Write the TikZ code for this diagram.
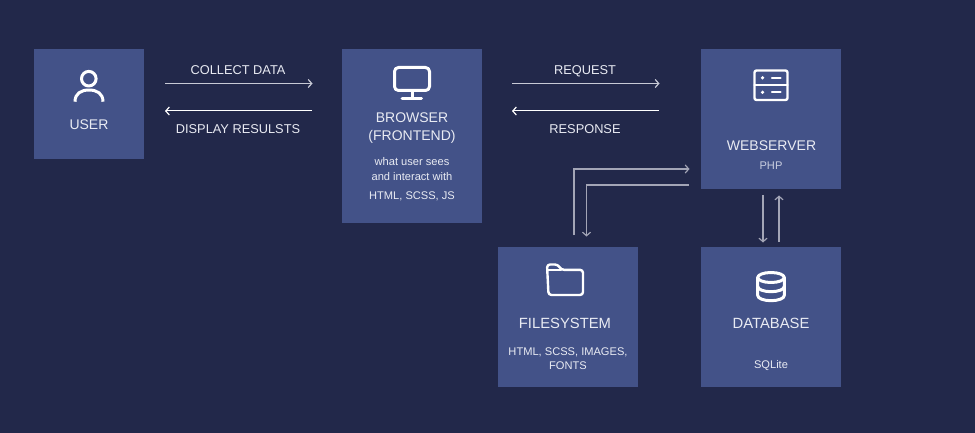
\documentclass[tikz,border=0pt]{standalone}
\usepackage{fontspec}
\setmainfont{Liberation Sans}
\usetikzlibrary{arrows.meta}
\definecolor{bgc}{HTML}{22284A}
\definecolor{boxc}{HTML}{435288}
\definecolor{txtc}{HTML}{E9EBF3}
\definecolor{dimc}{HTML}{C9CEE0}
\definecolor{linec}{HTML}{C8CAD6}
\definecolor{greyline}{HTML}{A3A5B6}
\tikzset{
  x=1pt,y=-1pt,
  tile/.style={fill=boxc,draw=none,anchor=north west,inner sep=0pt,outer sep=0pt},
  big/.style={text=txtc,font=\fontsize{14}{14}\selectfont,anchor=base,inner sep=0pt},
  bigw/.style={text=txtc,font=\fontsize{14.8}{14}\selectfont,anchor=base,inner sep=0pt},
  mid/.style={text=txtc,font=\fontsize{12.8}{13}\selectfont,anchor=base,inner sep=0pt},
  small/.style={text=txtc,font=\fontsize{11.1}{11}\selectfont,anchor=base,inner sep=0pt},
  conn/.style={draw=linec,line width=1pt,-{Straight Barb[length=3.5pt,width=8pt,line width=1.2pt]}},
  connw/.style={conn,draw=white},
  conng/.style={conn,draw=greyline,line width=1.2pt},
  icon/.style={draw=white,line width=3pt,line cap=round,line join=round},
  iconthin/.style={draw=white,line width=2.4pt,line cap=round,line join=round},
}
\begin{document}
\begin{tikzpicture}
\useasboundingbox[fill=bgc] (0,0) rectangle (975,433);
% tiles
\node[tile,minimum width=110pt,minimum height=110pt] (user) at (34,49) {};
\node[tile,minimum width=140pt,minimum height=174pt] (browser) at (342,49) {};
\node[tile,minimum width=140pt,minimum height=140pt] (web) at (701,49) {};
\node[tile,minimum width=140pt,minimum height=140pt] (files) at (498,247) {};
\node[tile,minimum width=140pt,minimum height=140pt] (db) at (701,247) {};
% labels
\node[big] (tuser) at (89,129.5) {USER};
\node[big] (tbrowser) at (412,122.7) {BROWSER};
\node[big] (tfront) at (412,141) {(FRONTEND)};
\node[small] (t1) at (412,166) {what user sees};
\node[small] (t2) at (412,180) {and interact with};
\node[small] (t3) at (412,200) {HTML, SCSS, JS};
\node[big] (tweb) at (771.5,150) {WEBSERVER};
\node[small,text=dimc] (tphp) at (771,170) {PHP};
\node[bigw] (tfiles) at (565,328) {FILESYSTEM};
\node[small] (t4) at (568,355.5) {HTML, SCSS, IMAGES,};
\node[small] (t5) at (568,369) {FONTS};
\node[bigw] (tdb) at (771,328) {DATABASE};
\node[small] (tsql) at (771,368) {SQLite};
\node[mid] (lcollect) at (238,74.5) {COLLECT DATA};
\node[mid] (ldisplay) at (238,134) {DISPLAY RESULSTS};
\node[mid] (lreq) at (585,74.5) {REQUEST};
\node[mid] (lresp) at (585,134) {RESPONSE};
% connectors
\draw[conn]  ([shift={(21,34.5)}]user.north east) -- ([shift={(-29.5,34.5)}]browser.north west);
\draw[connw] ([shift={(-30,62)}]browser.north west) -- ([shift={(21,62)}]user.north east);
\draw[conn]  ([shift={(30,34.5)}]browser.north east) -- ([shift={(-41.5,34.5)}]web.north west);
\draw[connw] ([shift={(-42,62)}]web.north west) -- ([shift={(30,62)}]browser.north east);
\draw[conng] ([shift={(76,-12)}]files.north west) |- ([shift={(-11.5,120)}]web.north west);
\draw[conng] ([shift={(-12,136)}]web.north west) -| ([shift={(88.5,-10.5)}]files.north west);
\draw[conng] ([shift={(62,6)}]web.south west) -- ([shift={(62,-4.5)}]db.north west);
\draw[conng] ([shift={(78,-5)}]db.north west) -- ([shift={(78,6.5)}]web.south west);
% user icon
\draw[icon] (88.8,78.7) circle (7.3);
\draw[icon,line cap=butt] (75,101.7) .. controls (75,93.5) and (81,90) .. (89,90) .. controls (97,90) and (103,93.5) .. (103,101.7);
% monitor icon
\draw[icon,rounded corners=4pt] (394.5,67.5) rectangle (429.5,90.5);
\draw[icon] (412,91) -- (412,98);
\draw[icon] (402,98.5) -- (421.5,98.5);
% server icon
\draw[iconthin,rounded corners=2pt] (754.5,70.5) rectangle (787.5,100);
\draw[iconthin] (754.5,85) -- (787.5,85);
\draw[iconthin] (772,77.8) -- (780.5,77.8);
\draw[iconthin] (772,92.3) -- (780.5,92.3);
\fill[white] (762.5,77.8) circle (1.8) (762.5,92.3) circle (1.8);
% folder icon
\draw[iconthin,rounded corners=3pt] (565,295) -- (583,295) -- (583,269.8) -- (561,269.8) -- (558,264.5) -- (547,264.5) -- (548.5,295) -- cycle;
\draw[iconthin] (548,269.8) -- (561,269.8);
% database icon
\draw[icon] (771,277.5) ellipse (13.3 and 5);
\draw[icon] (757.7,277.5) -- (757.7,295.5) .. controls (757.7,298.5) and (764,300.7) .. (771,300.7) .. controls (778,300.7) and (784.3,298.5) .. (784.3,295.5) -- (784.3,277.5);
\draw[icon] (757.7,286.5) .. controls (757.7,289.5) and (764,291.7) .. (771,291.7) .. controls (778,291.7) and (784.3,289.5) .. (784.3,286.5);
\end{tikzpicture}
\end{document}
